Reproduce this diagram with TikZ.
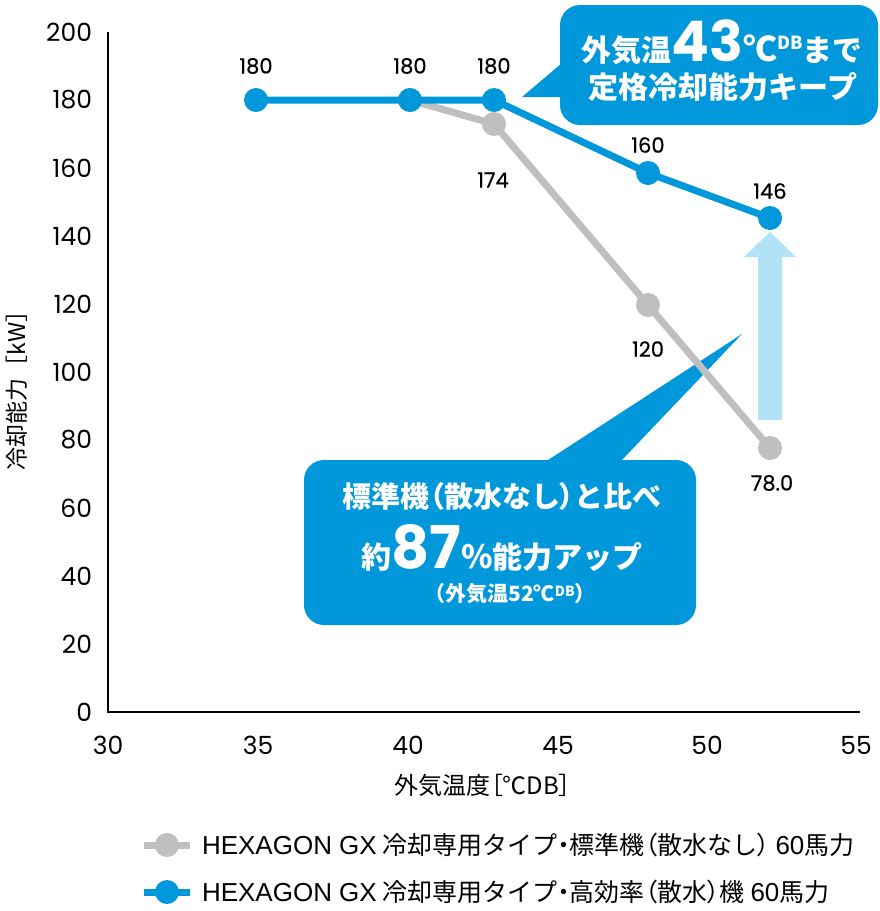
\documentclass[tikz,border=0pt]{standalone}
\usepackage{fontspec}
\setmainfont{Noto Sans CJK JP}
\newfontfamily\pop{Poppins}
\newfontfamily\popm{Poppins}[FakeBold=0.5]
\newfontfamily\lib{Liberation Sans}
\definecolor{cblue}{RGB}{0,152,219}
\definecolor{cgray}{RGB}{191,191,191}
\definecolor{clight}{RGB}{178,226,247}
\newcommand\fsz[1]{\fontsize{#1}{#1}\selectfont}
\newcommand\pl[1]{{\addfontfeatures{RawFeature=+palt}#1}}
\begin{document}
\begin{tikzpicture}[x=1pt,y=-1pt,
  every node/.style={inner sep=0pt,outer sep=0pt},
  callbox/.style={fill=cblue,rounded corners=20pt,draw=none},
  calltext/.style={text=white,font=\bfseries},
  ticklab/.style={font=\pop\fsz{25}},
  datalab/.style={font=\popm\fsz{21}},
  axisline/.style={line width=2.2pt,black},
  blueline/.style={line width=7pt,cblue},
  grayline/.style={line width=7pt,cgray},
  bluept/.style={circle,fill=cblue,minimum size=24pt},
  graypt/.style={circle,fill=cgray,minimum size=24pt},
  legtext/.style={font=\fsz{25},anchor=west}]
\useasboundingbox (0,0) rectangle (880,911);

% bottom callout
\node[callbox,minimum width=392pt,minimum height=165pt] (cb) at (500,542.5) {};
\coordinate (cbtip) at (742,334);
\fill[cblue] ([xshift=45pt,yshift=-2pt]cb.north) -- (cbtip) -- ([xshift=120pt,yshift=-2pt]cb.north) -- cycle;
\node[calltext,anchor=base] (cb1) at (502,507) {\fsz{29}標準機\pl{（}散水なし\pl{）}と比べ};
\node[calltext,anchor=base] (cb2) at (502,568) {\fsz{30}約{\pop\bfseries\fsz{59}87}{\fsz{32}\%}能力アップ};
\node[calltext,anchor=base] (cb3) at (510,601) {\fsz{21}（外気温52℃\raisebox{5pt}{\fsz{14}DB}）};

% light arrow
\fill[clight] (758,420) -- (782,420) -- (782,257) -- (796,257) -- (770,232) -- (744,257) -- (758,257) -- cycle;

% top callout
\node[callbox,minimum width=318pt,minimum height=120pt] (ct) at (719,65) {};
\coordinate (cttip) at (522,97);
\fill[cblue] ([xshift=2pt,yshift=2pt]ct.west) -- (cttip) -- ([xshift=2pt,yshift=-32pt]ct.west) -- cycle;
\node[calltext,anchor=base] (ct1) at (722,61) {\fsz{30}外気温{\pop\bfseries\fsz{56}43}{\fsz{34}℃}\raisebox{12pt}{\fsz{18}DB}まで};
\node[calltext,anchor=base] (ct2) at (723,98) {\fsz{30}定格冷却能力キープ};

% axes
\coordinate (ytop) at (108,32);
\coordinate (orig) at (108,712);
\coordinate (xend) at (860,712);
\draw[axisline] (ytop) -- (orig) -- (xend);
\foreach \v in {0,20,...,200} {
  \node[ticklab,anchor=east] at (92,{712-\v*3.4}) {\v};
}
\foreach \v/\x in {30/108,35/258,40/408,45/558,50/707,55/856} {
  \node[ticklab] at (\x,745) {\v};
}
\node[font=\fsz{24}] (xtitle) at (483,785) {外気温度\pl{［}℃DB\pl{］}};
\node[font=\fsz{23},rotate=90] (ytitle) at (17,385) {冷却能力［kW］};

% gray series
\coordinate (g1) at (410,100);
\coordinate (g2) at (494,124);
\coordinate (g3) at (648,305);
\coordinate (g4) at (770,448);
\draw[grayline] (g1) -- (g2) -- (g3) -- (g4);
\foreach \p in {g2,g3,g4} \node[graypt] at (\p) {};
\node[graypt] (G1) at (g1) {};

% blue series
\coordinate (b1) at (256,100);
\coordinate (b2) at (410,100);
\coordinate (b3) at (494,100);
\coordinate (b4) at (648,173);
\coordinate (b5) at (770,218);
\draw[blueline] (b1) -- (b2) -- (b3) -- (b4) -- (b5);
\foreach \p in {b1,b2,b3,b4,b5} \node[bluept] at (\p) {};

% data labels
\node[datalab] (l1) at (256,66) {180};
\node[datalab] (l2) at (410,66) {180};
\node[datalab] (l3) at (494,66) {180};
\node[datalab] (l4) at (493,180) {174};
\node[datalab] (l5) at (648,145) {160};
\node[datalab] (l6) at (770,191) {146};
\node[datalab] (l7) at (648,349) {120};
\node[datalab] (l8) at (772,483) {78.0};

% legend
\coordinate (lg1a) at (144,845);
\coordinate (lg1b) at (190,845);
\coordinate (lg2a) at (144,892);
\coordinate (lg2b) at (190,892);
\draw[grayline] (lg1a) -- (lg1b);
\node[graypt] (LG1) at (167,845) {};
\draw[blueline] (lg2a) -- (lg2b);
\node[bluept] (LG2) at (167,892) {};
\node[legtext] (lt1) at (202,845) {{\lib\fsz{26}HEXAGON GX} 冷却専用タイプ\pl{・}標準機\pl{（}散水なし\pl{）} {\lib\fsz{26}60}馬力};
\node[legtext] (lt2) at (202,892) {{\lib\fsz{26}HEXAGON GX} 冷却専用タイプ\pl{・}高効率\pl{（}散水\pl{）}機 {\lib\fsz{26}60}馬力};
\end{tikzpicture}
\end{document}
